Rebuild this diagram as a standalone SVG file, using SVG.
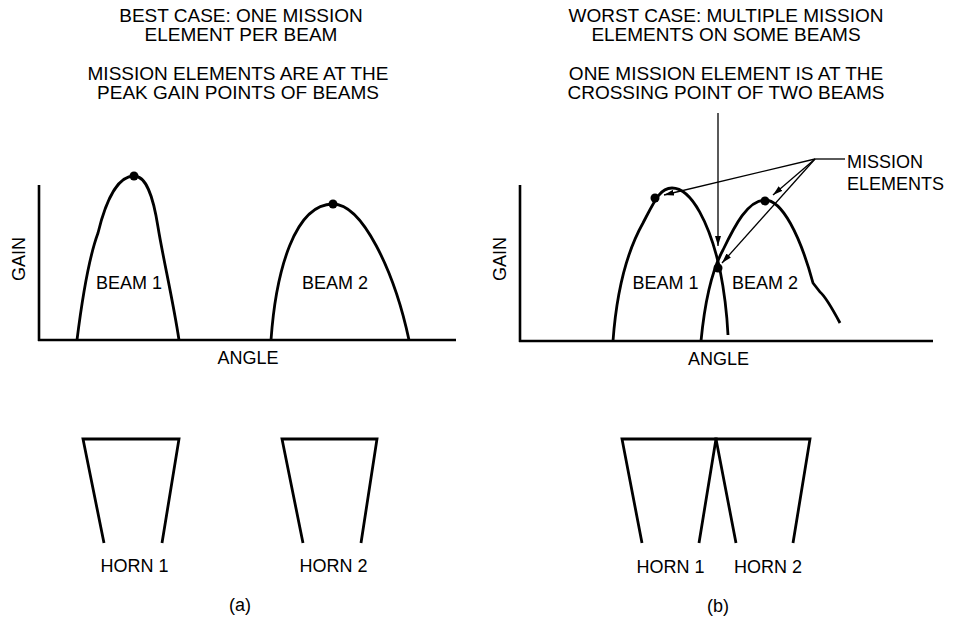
<svg xmlns="http://www.w3.org/2000/svg" width="953" height="622" viewBox="0 0 953 622">
<style>
text{font-family:"Liberation Sans",Arial,sans-serif;fill:#000;text-anchor:middle}
.t{font-size:19px}
.l{font-size:18px}
.ax{stroke:#000;stroke-width:2.6;fill:none}
.bm{stroke:#000;stroke-width:2.8;fill:none;stroke-linejoin:round}
.hn{stroke:#000;stroke-width:2.8;fill:none}
.ld{stroke:#000;stroke-width:1.3;fill:none}
</style>
<defs>
<marker id="ah" viewBox="0 0 10 6" refX="10" refY="3" markerWidth="10" markerHeight="6" markerUnits="userSpaceOnUse" orient="auto">
<path d="M0,0 L10,3 L0,6 Z" fill="#000"/>
</marker>
</defs>
<rect width="953" height="622" fill="#fff"/>

<g id="title-a">
<text class="t" x="241" y="22">BEST CASE: ONE MISSION</text>
<text class="t" x="241" y="41">ELEMENT PER BEAM</text>
<text class="t" x="238" y="80">MISSION ELEMENTS ARE AT THE</text>
<text class="t" x="238" y="99">PEAK GAIN POINTS OF BEAMS</text>
</g>
<g id="title-b">
<text class="t" x="726" y="22">WORST CASE: MULTIPLE MISSION</text>
<text class="t" x="726" y="41">ELEMENTS ON SOME BEAMS</text>
<text class="t" x="726" y="80">ONE MISSION ELEMENT IS AT THE</text>
<text class="t" x="726" y="99">CROSSING POINT OF TWO BEAMS</text>
</g>

<g id="axes-a">
<path class="ax" d="M39,185 V341 M38,340 H456"/>
<text class="l" transform="translate(25,259) rotate(-90)">GAIN</text>
<text class="l" x="248" y="364">ANGLE</text>
</g>
<g id="beam1-a">
<path class="bm" d="M77,340 C82,300 88,260 98,233 C106,200 118,176 134,176 C146,176 153,195 158,227 C163,258 173,300 179,340"/>
<circle cx="134" cy="176" r="4.5"/>
<text class="l" x="129" y="289">BEAM 1</text>
</g>
<g id="beam2-a">
<path class="bm" d="M271,340 C276,270 295,204 333,204 C362,204 394,270 409,340"/>
<circle cx="333" cy="204" r="4.5"/>
<text class="l" x="335" y="289">BEAM 2</text>
</g>

<g id="horn1-a">
<path class="hn" d="M104,543 L83,439 H179 L162,543"/>
<text class="l" x="134.5" y="572">HORN 1</text>
</g>
<g id="horn2-a">
<path class="hn" d="M303,543 L282,439 H377 L361,543"/>
<text class="l" x="333.5" y="572">HORN 2</text>
</g>
<text class="l" x="240" y="611">(a)</text>

<g id="axes-b">
<path class="ax" d="M520,185 V342 M519,341 H933"/>
<text class="l" transform="translate(506,259) rotate(-90)">GAIN</text>
<text class="l" x="718.5" y="365">ANGLE</text>
</g>
<g id="beam1-b">
<path class="bm" d="M613,341 C616,300 625,255 643,223 C655,200 660,188 672,188 C692,188 710,225 720,270 C724,290 727,315 728,335"/>
<circle cx="655" cy="198" r="4.5"/>
<text class="l" x="665.5" y="289">BEAM 1</text>
</g>
<g id="beam2-b">
<path class="bm" d="M701,341 C705,300 712,270 723,250 C735,225 748,200 765,200 C782,200 800,235 813,283 L820,292 C826,297 832,308 840,323"/>
<circle cx="765" cy="201" r="4.5"/>
<text class="l" x="765" y="289">BEAM 2</text>
</g>
<circle id="crossing" cx="718" cy="268" r="4.5"/>

<g id="label-mission">
<text class="l" x="847" y="168" style="text-anchor:start">MISSION</text>
<text class="l" x="847" y="190" style="text-anchor:start">ELEMENTS</text>
</g>

<g id="connectors">
<path class="ld" d="M718,113 V246" marker-end="url(#ah)"/>
<path class="ld" d="M845,159 H815"/>
<path class="ld" d="M815,159 L664,195" marker-end="url(#ah)"/>
<path class="ld" d="M815,159 L773,195" marker-end="url(#ah)"/>
<path class="ld" d="M815,159 L722,263" marker-end="url(#ah)"/>
</g>

<g id="horn1-b">
<path class="hn" d="M642,543 L622,439 H716 L699,543"/>
<text class="l" x="670.5" y="573">HORN 1</text>
</g>
<g id="horn2-b">
<path class="hn" d="M736,543 L716,439 H810 L793,543"/>
<text class="l" x="768" y="573">HORN 2</text>
</g>
<text class="l" x="718" y="612">(b)</text>
</svg>
